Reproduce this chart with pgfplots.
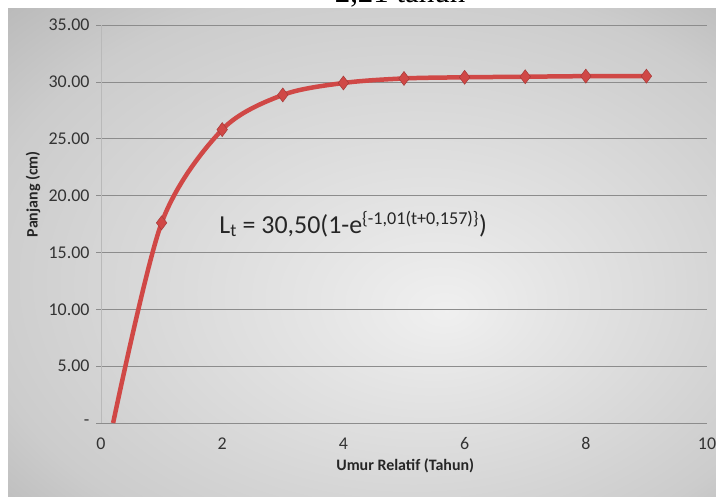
\documentclass[border=0pt]{standalone}
\usepackage{pgfplots}
\pgfplotsset{compat=1.18}
\usepackage{fontspec}
\setmainfont{Carlito}
\newfontfamily\titlefont{Liberation Serif}
\definecolor{curve}{RGB}{208,72,70}
\definecolor{gridc}{RGB}{140,140,140}

\pgfdeclareradialshading{chartbg}{\pgfpoint{6bp}{-6bp}}{%
  color(0bp)=(white!94!black);
  color(8bp)=(white!90!black);
  color(30bp)=(white!80!black);
  color(50bp)=(white!62!black)}

\begin{document}
\begin{tikzpicture}[x=1bp,y=1bp]
\clip (0,0) rectangle (716,499);
\fill[white] (0,0) rectangle (716,499);
\shade[shading=chartbg] (8,2) rectangle (716,490);
\node[anchor=base, font=\titlefont\fontsize{31}{31}\selectfont] at (400,496) {2,21 tahun};

\begin{axis}[
    at={(101bp,76bp)}, anchor=south west,
    scale only axis,
    width=606bp, height=398bp,
    xmin=0, xmax=10, ymin=0, ymax=35,
    xtick={0,2,4,6,8,10},
    xticklabels={0,2,4,6,8,10},
    ytick={0,5,10,15,20,25,30,35},
    yticklabels={-,5.00,10.00,15.00,20.00,25.00,30.00,35.00},
    ymajorgrids,
    grid style={gridc, line width=0.6bp},
    axis x line*=bottom, axis y line*=left,
    x axis line style={gridc, line width=0.8bp},
    y axis line style={gray!55, line width=0.8bp},
    xtick style={draw=none},
    ytick style={gridc, line width=0.6bp},
    tick align=outside, major tick length=5bp,
    tick label style={font=\fontsize{18}{18}\selectfont, text=black!80},
    yticklabel style={xshift=-3bp},
    xticklabel style={yshift=-6bp},
    xlabel={Umur Relatif (Tahun)},
    ylabel={Panjang (cm)},
    label style={font=\bfseries\fontsize{16}{16}\selectfont, text=black!85},
    xlabel style={at={(axis description cs:0.502,-0.108)}, anchor=center},
    ylabel style={at={(axis description cs:-0.112,0.575)}, anchor=center},
    clip=false,
]
\addplot[curve, line width=4.5bp, smooth, tension=0.5] coordinates {
    (0.2,0) (1,17.6) (2,25.8) (3,28.85) (4,29.9) (5,30.3) (6,30.4) (7,30.45) (8,30.5) (9,30.5)
};
\addplot[only marks, mark=diamond*, mark size=7bp,
    mark options={fill=curve, draw=curve!80!black, line width=0.5bp}] coordinates {
    (1,17.6) (2,25.8) (3,28.85) (4,29.9) (5,30.3) (6,30.4) (7,30.45) (8,30.5) (9,30.5)
};
\node[anchor=base west, font=\fontsize{26}{26}\selectfont, text=black!85, inner sep=0pt]
  at (axis cs:1.95,16.7) {L\textsubscript{t} = 30,50(1-e\textsuperscript{\{-1,01(t+0,157)\}})};
\end{axis}
\end{tikzpicture}
\end{document}
